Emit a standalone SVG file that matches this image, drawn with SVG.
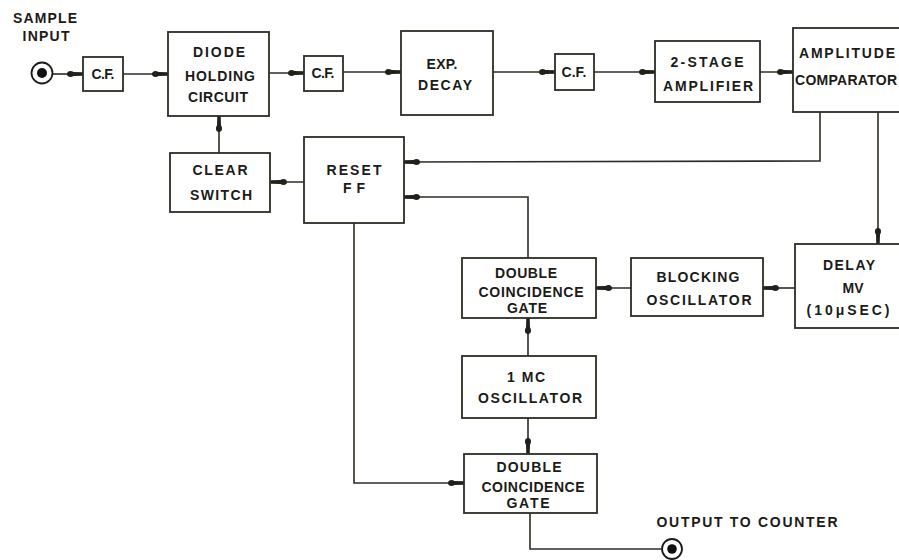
<svg xmlns="http://www.w3.org/2000/svg" width="899" height="560" viewBox="0 0 899 560">
<defs>
<style>
.box{fill:#fff;stroke:#2b2e24;stroke-width:1.8}
.ln{fill:none;stroke:#2b2e24;stroke-width:1.6}
.ar{marker-end:url(#arr)}
text{font-family:"Liberation Sans",Arial,sans-serif;font-weight:bold;font-size:14px;fill:#1b1b18;text-anchor:middle}
.jo{fill:#fff;stroke:#1b1b18;stroke-width:1.8}
.ji{fill:#111}
</style>
<marker id="arr" viewBox="-17 -5 18 10" markerWidth="18" markerHeight="10" refX="0" refY="0" orient="auto" markerUnits="userSpaceOnUse">
<path d="M-16,0 C-16,-3.6 -11.5,-3.6 -9.5,-2 L0.5,-1.7 L0.5,1.7 L-9.5,2 C-11.5,3.6 -16,3.6 -16,0 Z" fill="#1f221a"/>
</marker>
</defs>
<rect width="899" height="560" fill="#fff"/>

<g id="connectors">
<line class="ln ar" x1="53" y1="74" x2="83" y2="74"/>
<line class="ln ar" x1="123" y1="74" x2="168" y2="74"/>
<line class="ln ar" x1="269" y1="73" x2="304" y2="73"/>
<line class="ln ar" x1="343" y1="72" x2="401" y2="72"/>
<line class="ln ar" x1="493" y1="72" x2="555" y2="72"/>
<line class="ln ar" x1="594" y1="72" x2="655" y2="72"/>
<line class="ln ar" x1="760" y1="72" x2="793" y2="72"/>
<polyline class="ln ar" points="820,112 820,161 404,162"/>
<line class="ln ar" x1="878" y1="112" x2="878" y2="244"/>
<line class="ln ar" x1="795" y1="288" x2="763" y2="288"/>
<line class="ln ar" x1="631" y1="288" x2="596" y2="288"/>
<polyline class="ln ar" points="528,258 528,197 404,197"/>
<line class="ln ar" x1="304" y1="182" x2="271" y2="182"/>
<line class="ln ar" x1="219" y1="153" x2="219" y2="116"/>
<line class="ln ar" x1="528" y1="356" x2="528" y2="318"/>
<line class="ln ar" x1="528" y1="418" x2="528" y2="454"/>
<polyline class="ln ar" points="354,223 354,483 464,483"/>
<polyline class="ln" points="530,513 530,549 661,549"/>
</g>

<g id="sample-input">
<text x="45" y="23" textLength="64">SAMPLE</text>
<text x="46" y="41" textLength="47">INPUT</text>
<circle class="jo" cx="42" cy="73" r="10.5"/>
<circle class="ji" cx="42" cy="73" r="5"/>
</g>

<g id="cf1">
<rect class="box" x="83" y="57" width="40" height="34"/>
<text x="103" y="79" font-size="12" textLength="23">C.F.</text>
</g>

<g id="diode-holding">
<rect class="box" x="168" y="32" width="101" height="84"/>
<text x="219" y="57" textLength="52">DIODE</text>
<text x="220" y="81" textLength="70">HOLDING</text>
<text x="218" y="102" textLength="60">CIRCUIT</text>
</g>

<g id="cf2">
<rect class="box" x="304" y="56" width="39" height="35"/>
<text x="323" y="78" font-size="12" textLength="23">C.F.</text>
</g>

<g id="exp-decay">
<rect class="box" x="401" y="31" width="92" height="84"/>
<text x="442" y="69" textLength="31">EXP.</text>
<text x="445" y="90" textLength="54">DECAY</text>
</g>

<g id="cf3">
<rect class="box" x="555" y="54" width="39" height="36"/>
<text x="574" y="77" font-size="12" textLength="25">C.F.</text>
</g>

<g id="amplifier">
<rect class="box" x="655" y="41" width="105" height="61"/>
<text x="707" y="67" textLength="73">2-STAGE</text>
<text x="708" y="91" textLength="90">AMPLIFIER</text>
</g>

<g id="comparator">
<rect class="box" x="793" y="28" width="112" height="84"/>
<text x="847" y="58" textLength="96">AMPLITUDE</text>
<text x="846" y="85" textLength="102">COMPARATOR</text>
</g>

<g id="clear-switch">
<rect class="box" x="170" y="153" width="100" height="59"/>
<text x="220" y="175" textLength="55">CLEAR</text>
<text x="221" y="200" textLength="62">SWITCH</text>
</g>

<g id="reset-ff">
<rect class="box" x="304" y="137" width="100" height="86"/>
<text x="354" y="175" textLength="55">RESET</text>
<text x="354" y="193" textLength="22">FF</text>
</g>

<g id="delay-mv">
<rect class="box" x="795" y="244" width="112" height="84"/>
<text x="849" y="270" textLength="52">DELAY</text>
<text x="853" y="293">MV</text>
<text x="848" y="315" textLength="83">(10μSEC)</text>
</g>

<g id="blocking-oscillator">
<rect class="box" x="631" y="258" width="132" height="58"/>
<text x="698" y="282" textLength="83">BLOCKING</text>
<text x="699" y="305" textLength="105">OSCILLATOR</text>
</g>

<g id="dcg1">
<rect class="box" x="462" y="258" width="134" height="60"/>
<text x="526" y="278" textLength="62">DOUBLE</text>
<text x="531" y="297" textLength="105">COINCIDENCE</text>
<text x="527" y="313" textLength="40">GATE</text>
</g>

<g id="oscillator-1mc">
<rect class="box" x="462" y="356" width="134" height="62"/>
<text x="526" y="382" textLength="38">1 MC</text>
<text x="530" y="403" textLength="104">OSCILLATOR</text>
</g>

<g id="dcg2">
<rect class="box" x="464" y="454" width="133" height="59"/>
<text x="529" y="472" textLength="65">DOUBLE</text>
<text x="533" y="492" textLength="103">COINCIDENCE</text>
<text x="528" y="508" textLength="43">GATE</text>
</g>

<g id="output">
<text x="747" y="527" textLength="181">OUTPUT TO COUNTER</text>
<circle class="jo" cx="672" cy="549" r="10"/>
<circle class="ji" cx="672" cy="549" r="4.8"/>
</g>
</svg>
